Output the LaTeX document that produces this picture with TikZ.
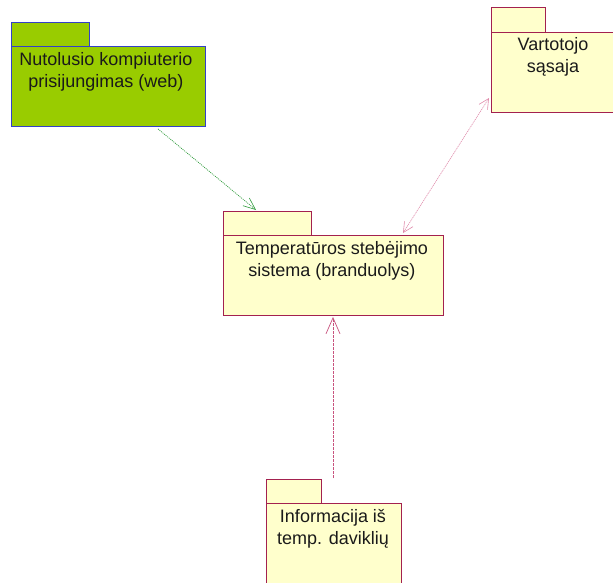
\documentclass[tikz,border=0pt]{standalone}
\usepackage{fontspec}
\setmainfont{Liberation Sans}
\usetikzlibrary{arrows.meta,calc}
\definecolor{pkgline}{HTML}{A3214F}
\definecolor{pkgfill}{HTML}{FFFFCC}
\definecolor{webfill}{HTML}{99CC00}
\definecolor{webline}{HTML}{3340C8}
\definecolor{deplink}{HTML}{2E9A3A}
\definecolor{uilink}{HTML}{E08AAA}
\definecolor{senlink}{HTML}{C8537E}
\definecolor{txt}{HTML}{1A1A1A}
\tikzset{
  pkg/.style={draw=pkgline, fill=pkgfill, line width=0.9pt, rectangle, inner sep=0pt, anchor=north west},
  webpkg/.style={draw=webline, fill=webfill, line width=0.9pt, rectangle, inner sep=0pt, anchor=north west},
  lbl/.style={text=txt, font=\fontsize{18}{22}\selectfont, align=center, inner sep=0pt},
}
\begin{document}
\begin{tikzpicture}[x=1pt,y=-1pt]
\useasboundingbox (0,0) rectangle (613,582);
\fill[white] (0,0) rectangle (613,582);

% remote computer package (green)
\node[webpkg, minimum width=78pt, minimum height=25pt] (webtab) at (11,22) {};
\node[webpkg, minimum width=194pt, minimum height=80pt] (web) at (11,46) {};
\node[lbl] (weblbl) at (106,72) {Nutolusio kompiuterio\\prisijungimas (web)};

% user interface package
\node[pkg, minimum width=54pt, minimum height=26pt] (uitab) at (491,7) {};
\node[pkg, minimum width=140pt, minimum height=80pt] (ui) at (491,32) {};
\node[lbl] (uilbl) at (553,57) {Vartotojo\\sąsaja};

% core system package
\node[pkg, minimum width=88pt, minimum height=25pt] (coretab) at (223,211) {};
\node[pkg, minimum width=220pt, minimum height=80pt] (core) at (223,235) {};
\node[lbl] (corelbl) at (332,261) {Temperatūros stebėjimo\\sistema (branduolys)};

% sensor data package
\node[pkg, minimum width=55pt, minimum height=25pt] (sentab) at (266,479) {};
\node[pkg, minimum width=135pt, minimum height=100pt] (sen) at (266,503) {};
\node[lbl] (senlbl) at (333,529) {Informacija iš\\temp. daviklių};

% dependencies
\draw[deplink, line width=0.7pt, dash pattern=on 1pt off 1pt,
      -{Straight Barb[length=12pt, width=10pt, line width=0.6pt]}]
  ($(web.south west)+(147,2)$) -- ($(coretab.north west)+(33,-1)$);
\draw[uilink, line width=0.6pt, dash pattern=on 1.2pt off 0.8pt,
      {Straight Barb[length=10pt, width=10pt, line width=0.6pt]}-{Straight Barb[length=10pt, width=10pt, line width=0.6pt]}]
  ($(ui.north west)+(-2,66)$) -- ($(core.north west)+(180,-2)$);
\draw[senlink, line width=0.7pt, dash pattern=on 3pt off 1pt,
      -{Straight Barb[length=16pt, width=14pt, line width=0.7pt]}]
  ($(sentab.north west)+(67,-1)$) -- ($(core.south west)+(110,1)$);
\end{tikzpicture}
\end{document}
